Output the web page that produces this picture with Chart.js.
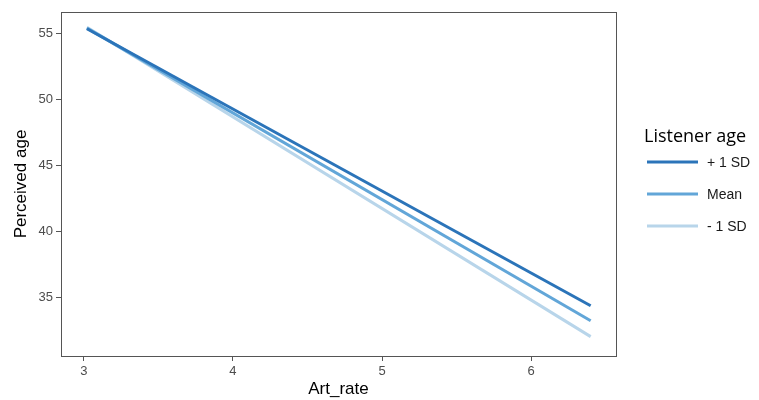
<!DOCTYPE html>
<html>
<head>
<meta charset="utf-8">
<script src="https://cdn.jsdelivr.net/npm/chart.js@4/dist/chart.umd.min.js"></script>
<style>
  html, body { margin: 0; padding: 0; background: #fff; }
  #wrap { width: 759px; height: 400px; }
</style>
</head>
<body>
<div id="wrap"><canvas id="c" width="759" height="400"></canvas></div>
<script>
// Predicted perceived age across articulation rate, by listener age
const artRate  = [3.02, 6.40];
const plusSD   = [55.35, 34.34];
const meanAge  = [55.40, 33.20];
const minusSD  = [55.46, 32.00];

const seriesLabels = ['+ 1 SD', 'Mean', '- 1 SD'];
const seriesColors = ['#2b74b9', '#62a6d8', '#b8d5ea'];
const xTicks = [3, 4, 5, 6];
const yTicks = [35, 40, 45, 50, 55];

const toPoints = ys => artRate.map((x, i) => ({ x: x, y: ys[i] }));
const allSeries = [plusSD, meanAge, minusSD];

const datasets = allSeries.map((ys, i) => ({
  label: seriesLabels[i],
  data: toPoints(ys),
  borderColor: seriesColors[i],
  backgroundColor: seriesColors[i],
  borderWidth: 3,
  pointRadius: 0,
  tension: 0,
  fill: false
}));

// Panel border around the plotting area
const panelBox = {
  id: 'panelBox',
  afterDraw(chart) {
    const { ctx, chartArea: a } = chart;
    ctx.save();
    ctx.strokeStyle = '#555';
    ctx.lineWidth = 1;
    ctx.strokeRect(a.left + 0.5, a.top + 0.5, a.right - a.left, a.bottom - a.top);
    ctx.restore();
  }
};

// Legend on the right with a title and line keys
const sideLegend = {
  id: 'sideLegend',
  afterDraw(chart) {
    const ctx = chart.ctx;
    ctx.save();
    ctx.fillStyle = '#000';
    ctx.font = '18px "Open Sans", "Noto Sans", sans-serif';
    ctx.textBaseline = 'middle';
    ctx.textAlign = 'left';
    ctx.fillText('Listener age', 644, 137);
    chart.data.datasets.forEach((ds, i) => {
      const y = 162 + i * 32;
      ctx.strokeStyle = ds.borderColor;
      ctx.lineWidth = 3;
      ctx.beginPath();
      ctx.moveTo(647, y);
      ctx.lineTo(698, y);
      ctx.stroke();
      ctx.fillStyle = '#1a1a1a';
      ctx.font = '14px "Liberation Sans", Arial, sans-serif';
      ctx.fillText(ds.label, 707, y + 1);
    });
    ctx.restore();
  }
};

new Chart(document.getElementById('c'), {
  type: 'line',
  data: { datasets: datasets },
  plugins: [panelBox, sideLegend],
  options: {
    responsive: false,
    animation: false,
    layout: { padding: { left: 0, top: 12, right: 143, bottom: 0 } },
    plugins: { legend: { display: false }, tooltip: { enabled: false } },
    scales: {
      x: {
        type: 'linear',
        min: 2.846,
        max: 6.57,
        afterFit(s) { s.height = 44; },
        afterBuildTicks(s) { s.ticks = xTicks.map(v => ({ value: v })); },
        ticks: { color: '#4d4d4d', font: { size: 13, family: '"Liberation Sans", Arial, sans-serif' }, padding: 3 },
        grid: { drawOnChartArea: false, drawTicks: true, tickLength: 5, color: '#555' },
        border: { display: true, color: '#555', width: 1 },
        title: {
          display: true, text: 'Art_rate', color: '#000',
          font: { size: 17, family: '"Liberation Sans", Arial, sans-serif' },
          padding: { top: 0, bottom: 0 }
        }
      },
      y: {
        type: 'linear',
        min: 30.53,
        max: 56.62,
        afterFit(s) { s.width = 61; },
        afterBuildTicks(s) { s.ticks = yTicks.map(v => ({ value: v })); },
        ticks: { color: '#4d4d4d', font: { size: 13, family: '"Liberation Sans", Arial, sans-serif' }, padding: 3 },
        grid: { drawOnChartArea: false, drawTicks: true, tickLength: 5, color: '#555' },
        border: { display: true, color: '#555', width: 1 },
        title: {
          display: true, text: 'Perceived age', color: '#000',
          font: { size: 17, family: '"Liberation Sans", Arial, sans-serif' },
          padding: { top: 11, bottom: 0 }
        }
      }
    }
  }
});
</script>
</body>
</html>
